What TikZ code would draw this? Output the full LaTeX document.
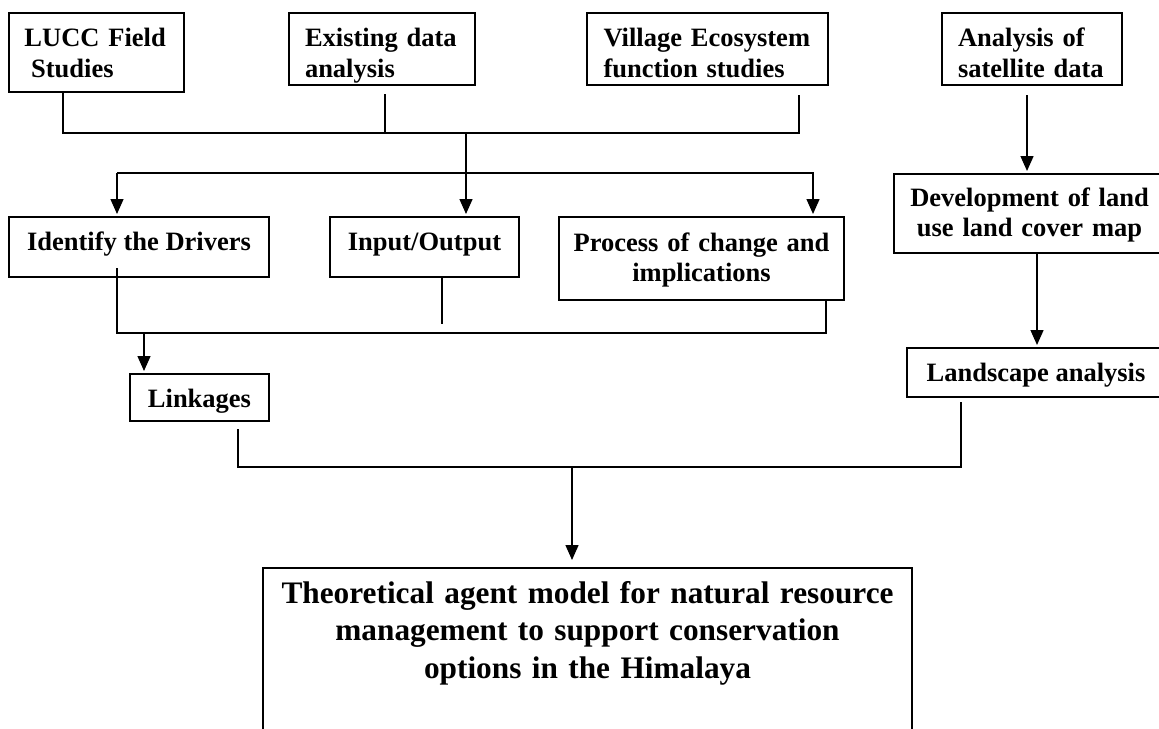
\documentclass[tikz,border=0pt]{standalone}
\usepackage{fontspec}
\setmainfont{Liberation Serif}
\usetikzlibrary{arrows.meta}
\hyphenpenalty=10000
\newcommand{\boxfont}{\fontsize{13.25pt}{15.15pt}\selectfont\bfseries}
\newcommand{\modelfont}{\fontsize{15.65pt}{18.75pt}\selectfont\bfseries}

\begin{document}
\begin{tikzpicture}[x=0.5pt,y=-0.5pt,
  box/.style={draw,line width=1pt,inner sep=0pt,anchor=north,font=\boxfont},
  hd/.style 2 args={text height=#1,text depth=#2},
  ln/.style={line width=0.7pt},
  ar/.style={ln,-{Triangle[length=7.5pt,width=6.5pt]},shorten >=1pt}]
\useasboundingbox (0,0) rectangle (1159,728);
\node[box,align=left,text width=72pt,minimum width=87.5pt,hd={16.85pt}{22.65pt}] (lucc) at (96.5,12)
      {LUCC Field\\\hspace*{.25em}Studies};
\node[box,align=left,text width=77pt,minimum width=93pt,hd={16.85pt}{19.15pt}] (exist) at (382,12)
      {Existing data\\analysis};
\node[box,align=left,text width=104pt,minimum width=120.5pt,hd={16.85pt}{19.15pt}] (village) at (707.5,12)
      {Village Ecosystem\\function studies};
\node[box,align=left,text width=74pt,minimum width=90pt,hd={16.85pt}{19.15pt}] (sat) at (1032,12)
      {Analysis of\\satellite data};
\node[box,minimum width=130pt,hd={16.5pt}{13.5pt}] (drivers) at (139,216) {Identify the Drivers};
\node[box,minimum width=94.5pt,hd={16.5pt}{13.5pt}] (inout) at (424.5,216) {Input/Output};
\node[box,align=center,text width=130pt,minimum width=142.5pt,hd={17pt}{24.5pt}] (process) at (701.5,216)
      {Process of change and\\implications};
\node[box,align=center,text width=122pt,minimum width=135.5pt,hd={16pt}{23.5pt}] (devel) at (1029.5,173)
      {Development of land\\use land cover map};
\node[box,minimum width=69.5pt,hd={16.85pt}{6.65pt}] (links) at (199.5,373) {Linkages};
\node[box,minimum width=129pt,hd={16.5pt}{8pt}] (land) at (1036,347) {Landscape analysis};
\node[box,font=\modelfont,align=center,text width=320pt,minimum width=324.5pt,hd={17.5pt}{100pt}] (model)
      at (587.5,567)
      {Theoretical agent model for natural resource\\management to support conservation\\options in the Himalaya};
\coordinate (tl) at (63,133);
\coordinate (te) at (385,133);
\coordinate (tm) at (466,133);
\coordinate (tr) at (799,133);
\coordinate (sl) at (117,173);
\coordinate (sr) at (813,173);
\coordinate (ml) at (117,333);
\coordinate (mk) at (144,333);
\coordinate (mr) at (826,333);
\coordinate (ioend) at (442,324);
\coordinate (bl) at (238,467);
\coordinate (bm) at (572,467);
\coordinate (br) at (961,467);
\draw[ln] (lucc.south -| tl) -- (tl) -- (tr) -- ([yshift=-4.5pt]village.south -| tr);
\draw[ln] ([yshift=-4pt]exist.south -| te) -- (te);
\draw[ar] (tm) -- (tm |- inout.north);
\draw[ar] (sl) -- (sl |- drivers.north);
\draw[ar] (sl) -| (sr |- process.north);
\draw[ln] ([yshift=5pt]drivers.south -| ml) -- (ml) -- (mr) -- (mr |- process.south);
\draw[ln] (inout.south -| ioend) -- (ioend);
\draw[ar] (mk) -- (mk |- links.north);
\draw[ar] ([xshift=-2.5pt,yshift=-4.5pt]sat.south) coordinate (a1) -- (a1 |- devel.north);
\draw[ar] ([xshift=3.75pt]devel.south) coordinate (a2) -- (a2 |- land.north);
\draw[ln] ([yshift=-3.5pt]links.south -| bl) -- (bl) -- (br) -- ([yshift=-2pt]land.south -| br);
\draw[ar,shorten >=3.5pt] (bm) -- (bm |- model.north);
\end{tikzpicture}
\end{document}
